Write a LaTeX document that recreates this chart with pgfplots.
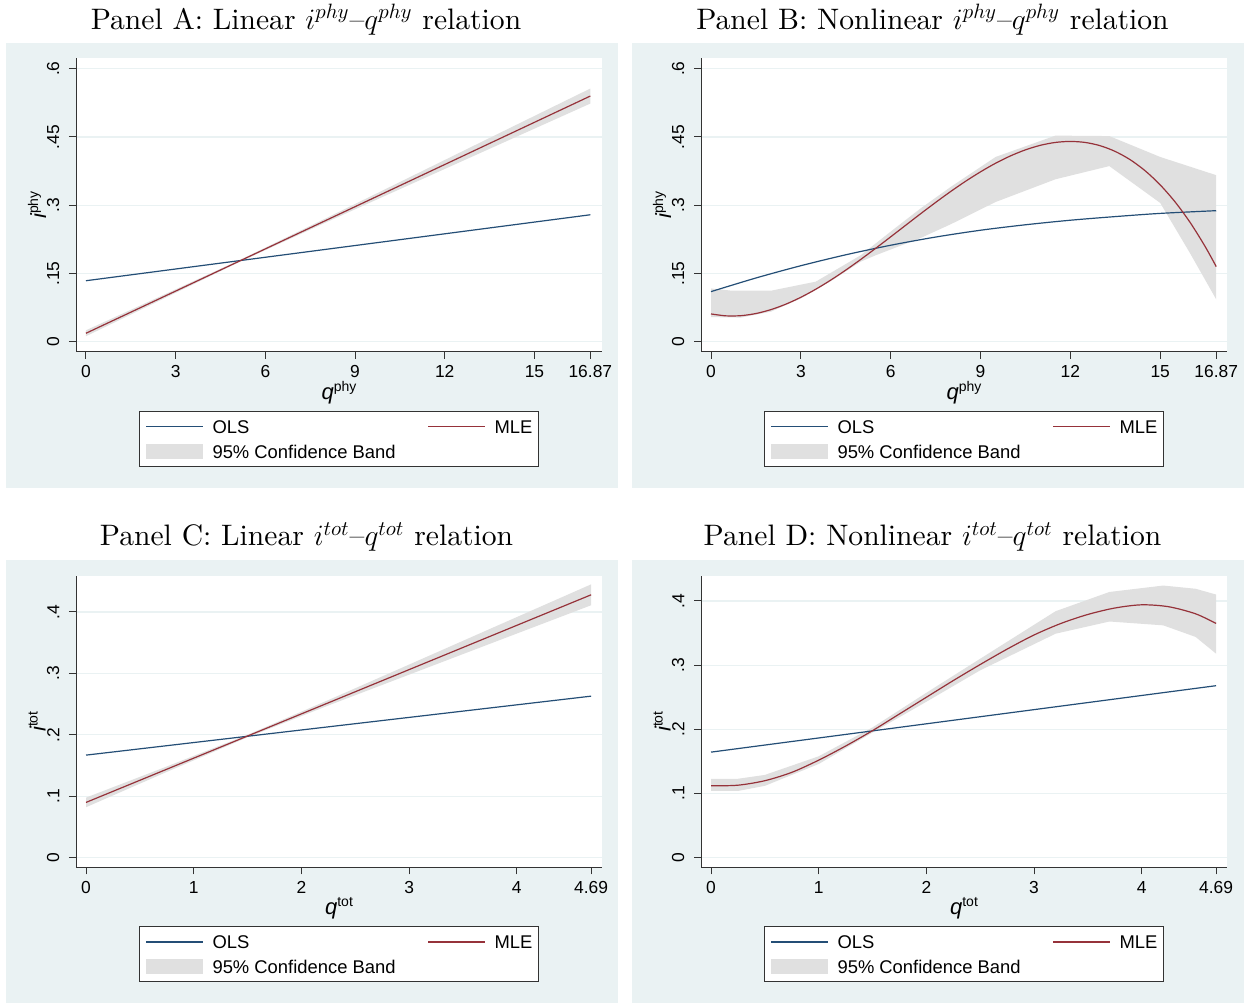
\documentclass[border=0pt]{standalone}
\usepackage{fix-cm}
\usepackage{fontspec}
\newfontfamily\arialf{Liberation Sans}
\newfontfamily\titlefont{lmroman10-regular.otf}[ItalicFont=lmroman10-italic.otf, Ligatures=TeX]
\usepackage{pgfplots}
\pgfplotsset{compat=1.18}
\definecolor{bgc}{RGB}{234,242,243}
\definecolor{gridc}{RGB}{234,242,243}
\definecolor{olsc}{RGB}{36,78,118}
\definecolor{mlec}{RGB}{150,50,58}
\definecolor{bandc}{RGB}{224,224,224}
\newcommand{\axlab}[2]{{\fontsize{11}{13}\selectfont\itshape #1}\raisebox{4pt}{\fontsize{7}{8}\selectfont #2}}
\pgfplotsset{
  stata/.style={
    scale only axis, width=263pt,
    axis x line*=bottom, axis y line*=left,
    axis line style={black!80, line width=0.5pt},
    tick style={black!80, line width=0.5pt},
    tick align=outside, major tick length=3.5pt,
    axis background/.style={fill=white},
    ymajorgrids, grid style={gridc, line width=0.6pt},
    ticklabel style={font=\arialf\fontsize{8.7}{10}\selectfont},
    yticklabel style={rotate=90, anchor=south, inner ysep=4.6pt},
    xticklabel style={anchor=north},
    xlabel style={at={(axis description cs:0.5,-0.139)}, anchor=center, font=\arialf},
    ylabel style={at={(axis description cs:-0.0741,0.5)}, anchor=center, font=\arialf},
    legend columns=2,
    legend cell align=left,
    legend style={draw=black!80, line width=0.5pt, fill=white,
      font=\arialf\fontsize{9.2}{11}\selectfont,
      at={(0.5,-0.2021)}, anchor=north,
      inner xsep=3pt, inner ysep=3.5pt, row sep=4.5pt,
      nodes={inner xsep=0pt, inner ysep=0.5pt, text height=7pt, text depth=0pt},
      /tikz/every odd column/.append style={column sep=5pt},
      /tikz/every even column/.append style={column sep=16pt}},
  },
  olsline/.style={color=olsc, line width=0.6pt},
  mleline/.style={color=mlec, line width=0.6pt},
  olsleg/.style={legend image code/.code={\fill[fill=olsc, draw=none] (0pt,-0.45pt) rectangle (28.5pt,0.45pt);}},
  mleleg/.style={legend image code/.code={\fill[fill=mlec, draw=none] (0pt,-0.45pt) rectangle (28.5pt,0.45pt);}},
  bandleg/.style={legend image code/.code={\fill[fill=bandc, draw=none] (0pt,-3.75pt) rectangle (28.5pt,3.75pt);}},
}
\newcommand{\statalegend}{%
  \addlegendimage{olsleg}\addlegendentry{OLS}
  \addlegendimage{mleleg}\addlegendentry{MLE}
  \addlegendimage{bandleg}\addlegendentry{95\% Confidence Band}}
\newcommand{\ttl}[2]{\node[font=\titlefont\fontsize{14.8}{17}\selectfont] at (#1) {#2};}
\begin{document}
\begin{tikzpicture}
\path[use as bounding box] (0pt,0pt) rectangle (623.5pt,502.5pt);
% panel backgrounds
\fill[bgc] (3pt,258.5pt) rectangle (309pt,481pt);
\fill[bgc] (316pt,258.5pt) rectangle (622pt,481pt);
\fill[bgc] (3pt,1pt) rectangle (309pt,222.5pt);
\fill[bgc] (316pt,1pt) rectangle (622pt,222.5pt);
% titles
\ttl{153pt,492.5pt}{Panel A: Linear $i^{phy}$\textendash$q^{phy}$ relation}
\ttl{466.25pt,492.5pt}{Panel B: Nonlinear $i^{phy}$\textendash$q^{phy}$ relation}
\ttl{153.25pt,234pt}{Panel C: Linear $i^{tot}$\textendash$q^{tot}$ relation}
\ttl{466.25pt,234pt}{Panel D: Nonlinear $i^{tot}$\textendash$q^{tot}$ relation}

% Panel A
\begin{axis}[stata, at={(38pt,326.65pt)}, anchor=south west, height=146.7pt,
  xmin=-0.334, xmax=17.26, ymin=-0.022, ymax=0.623,
  xtick={0,3,6,9,12,15,16.87}, xticklabels={0,3,6,9,12,15,16.87},
  ytick={0,0.15,0.3,0.45,0.6}, yticklabels={0,.15,.3,.45,.6},
  xlabel={\axlab{q}{phy}}, ylabel={\axlab{i}{phy}}]
\statalegend
\addplot[fill=bandc, draw=none, forget plot] coordinates {
 (0,0.025) (2.5,0.100) (5.17,0.1804) (8,0.2704) (11,0.3671) (14,0.4640) (16.87,0.5565)
 (16.87,0.5235) (14,0.4388) (11,0.3501) (8,0.2614) (5.17,0.1764) (2.5,0.0916) (0,0.012)} -- cycle;
\addplot[olsline, forget plot] coordinates {(0,0.134) (16.87,0.279)};
\addplot[mleline, forget plot] coordinates {(0,0.0185) (16.87,0.540)};
\end{axis}

% Panel B
\begin{axis}[stata, at={(350.5pt,326.65pt)}, anchor=south west, height=146.7pt,
  xmin=-0.334, xmax=17.23, ymin=-0.022, ymax=0.623,
  xtick={0,3,6,9,12,15,16.87}, xticklabels={0,3,6,9,12,15,16.87},
  ytick={0,0.15,0.3,0.45,0.6}, yticklabels={0,.15,.3,.45,.6},
  xlabel={\axlab{q}{phy}}, ylabel={\axlab{i}{phy}}]
\statalegend
\addplot[fill=bandc, draw=none, forget plot] coordinates {
 (0,0.117) (0.7,0.112) (2,0.112) (3.5,0.132) (5,0.190) (6,0.242) (7,0.293) (8,0.340) (9.5,0.406) (11.5,0.453) (13.3,0.452) (15,0.406) (16.87,0.366)
 (16.87,0.093) (16,0.194) (15,0.305) (13.3,0.386) (11.5,0.357) (9.5,0.307) (8,0.258) (7,0.228) (5.5,0.190) (5,0.176) (4,0.133) (3,0.095) (2,0.066) (1,0.053) (0,0.054)} -- cycle;
\addplot[olsline, smooth, forget plot] coordinates {(0,0.110) (1.5,0.140) (3,0.167) (4.5,0.191) (6,0.212) (7.5,0.230) (9,0.245) (10.5,0.257) (12,0.267) (13.5,0.275) (15,0.282) (16.87,0.288)};
\addplot[mleline, smooth, forget plot] coordinates {(0,0.0610) (0.5,0.0568) (1,0.0572) (1.5,0.0619) (2,0.0705) (2.5,0.0825) (3,0.0976) (3.5,0.1154) (4,0.1355) (4.5,0.1574) (5,0.1808) (5.5,0.2053) (6,0.2305) (6.5,0.2559) (7,0.2813) (7.5,0.3061) (8,0.3300) (8.5,0.3526) (9,0.3734) (9.5,0.3922) (10,0.4084) (10.5,0.4217) (11,0.4317) (11.5,0.4380) (12,0.4402) (12.5,0.4379) (13,0.4307) (13.5,0.4181) (14,0.3999) (14.5,0.3755) (15,0.3446) (15.5,0.3069) (16,0.2619) (16.5,0.2092) (16.87,0.165)};
\end{axis}

% Panel C
\begin{axis}[stata, at={(38pt,68.85pt)}, anchor=south west, height=145.65pt,
  xmin=-0.093, xmax=4.791, ymin=-0.0156, ymax=0.4586,
  xtick={0,1,2,3,4,4.69}, xticklabels={0,1,2,3,4,4.69},
  ytick={0,0.1,0.2,0.3,0.4}, yticklabels={0,.1,.2,.3,.4},
  xlabel={\axlab{q}{tot}}, ylabel={\axlab{i}{tot}}]
\statalegend
\addplot[fill=bandc, draw=none, forget plot] coordinates {
 (0,0.0978) (0.75,0.1485) (1.5,0.2001) (2.25,0.2566) (3,0.3144) (3.75,0.3724) (4.69,0.445)
 (4.69,0.411) (3.75,0.3482) (3,0.298) (2.25,0.2478) (1.5,0.1961) (0.75,0.1397) (0,0.0822)} -- cycle;
\addplot[olsline, forget plot] coordinates {(0,0.167) (4.69,0.263)};
\addplot[mleline, forget plot] coordinates {(0,0.090) (4.69,0.428)};
\end{axis}

% Panel D
\begin{axis}[stata, at={(350.5pt,68.85pt)}, anchor=south west, height=145.65pt,
  xmin=-0.093, xmax=4.792, ymin=-0.0149, ymax=0.4389,
  xtick={0,1,2,3,4,4.69}, xticklabels={0,1,2,3,4,4.69},
  ytick={0,0.1,0.2,0.3,0.4}, yticklabels={0,.1,.2,.3,.4},
  xlabel={\axlab{q}{tot}}, ylabel={\axlab{i}{tot}}]
\statalegend
\addplot[fill=bandc, draw=none, forget plot] coordinates {
 (0,0.123) (0.25,0.123) (0.5,0.129) (1,0.158) (1.5,0.203) (2,0.257) (2.5,0.310) (3.2,0.384) (3.7,0.414) (4.2,0.424) (4.5,0.419) (4.69,0.410)
 (4.69,0.318) (4.5,0.344) (4.2,0.362) (3.7,0.368) (3.2,0.349) (2.5,0.292) (2,0.243) (1.5,0.195) (1,0.146) (0.5,0.112) (0.25,0.104) (0,0.104)} -- cycle;
\addplot[olsline, forget plot] coordinates {(0,0.1645) (4.69,0.268)};
\addplot[mleline, smooth, forget plot] coordinates {(0,0.112) (0.25,0.113) (0.5,0.120) (0.75,0.133) (1,0.152) (1.25,0.174) (1.5,0.198) (1.75,0.224) (2,0.250) (2.25,0.276) (2.5,0.301) (2.75,0.325) (3,0.347) (3.25,0.365) (3.5,0.379) (3.75,0.389) (4,0.394) (4.25,0.391) (4.5,0.380) (4.69,0.365)};
\end{axis}
\end{tikzpicture}
\end{document}
